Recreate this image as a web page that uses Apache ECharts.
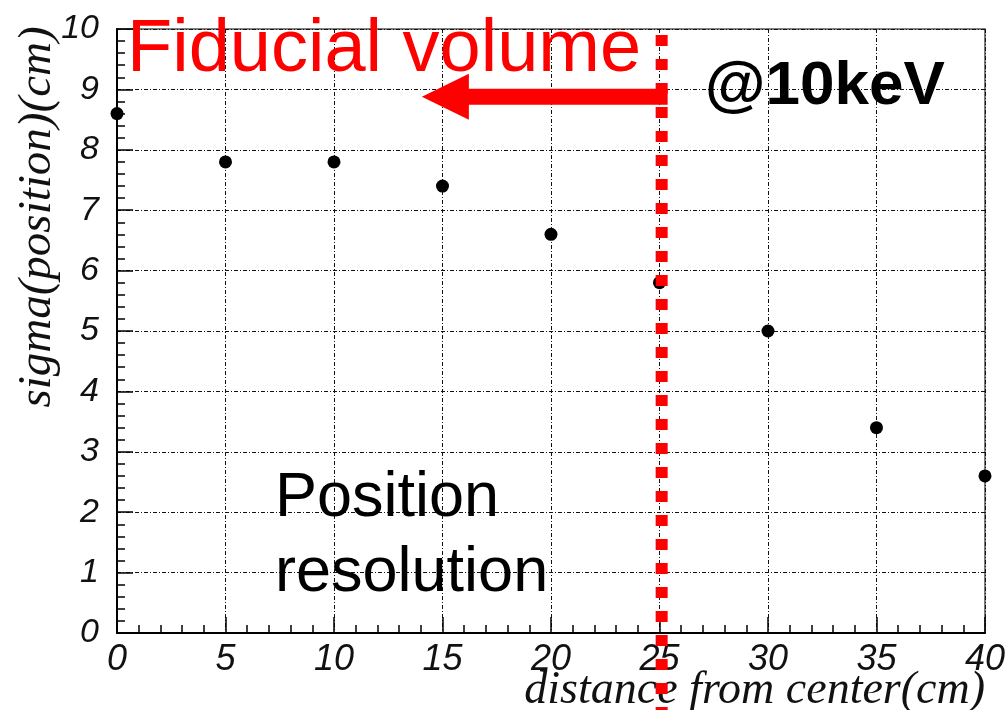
<!DOCTYPE html>
<html>
<head>
<meta charset="utf-8">
<script src="https://cdn.jsdelivr.net/npm/echarts@6/dist/echarts.min.js"></script>
<style>
  html, body { margin: 0; padding: 0; background: #fff; }
  #chart { width: 1008px; height: 710px; }
</style>
</head>
<body>
<div id="chart"></div>
<script>
// Position resolution (sigma) versus distance from the detector center, 10 keV events
const distances = [0, 5, 10, 15, 20, 25, 30, 35, 40];
const sigmaValues = [8.6, 7.8, 7.8, 7.4, 6.6, 5.8, 5.0, 3.4, 2.6];

// Fiducial volume boundary (cm) and the arrow pointing inwards from it
const fiducialRadius = 25.1;
const arrowLevel = 8.88;
const arrowTipDistance = 14.05;

const xTitle = 'distance from center(cm)';
const yTitle = 'sigma(position)(cm)';

const chart = echarts.init(document.getElementById('chart'));

const gridLine = { show: true, lineStyle: { color: '#111', width: 1, type: [4, 2, 1, 2] } };
const tickLabel = { fontFamily: 'Liberation Sans', fontStyle: 'italic', color: '#111' };

chart.setOption({
  animation: false,
  backgroundColor: '#fff',
  grid: {
    left: 117, right: 20, top: 29, bottom: 77,
    show: true, borderColor: '#555', borderWidth: 1.5, backgroundColor: 'transparent'
  },
  xAxis: {
    type: 'value', min: 0, max: 40, interval: 5,
    axisLine: { show: true, lineStyle: { color: '#000', width: 2 } },
    axisTick: { show: true, inside: true, length: 16, lineStyle: { color: '#000', width: 1.5 } },
    minorTick: { show: true, splitNumber: 5, length: 8, lineStyle: { color: '#000', width: 1.5 } },
    splitLine: gridLine,
    axisLabel: Object.assign({ fontSize: 36, margin: 9 }, tickLabel)
  },
  yAxis: {
    type: 'value', min: 0, max: 10, interval: 1,
    axisLine: { show: true, lineStyle: { color: '#000', width: 2 } },
    axisTick: { show: true, inside: true, length: 16, lineStyle: { color: '#000', width: 1.5 } },
    minorTick: { show: true, splitNumber: 5, length: 8, lineStyle: { color: '#000', width: 1.5 } },
    splitLine: gridLine,
    axisLabel: Object.assign({ fontSize: 34, margin: 18 }, tickLabel)
  },
  series: [{
    type: 'scatter',
    data: distances.map((d, i) => [d, sigmaValues[i]]),
    symbol: 'circle',
    symbolSize: 13,
    clip: true,
    itemStyle: { color: '#000', opacity: 1 },
    z: 3
  }]
});

// Annotations anchored to the data scale
const lineX = chart.convertToPixel({ gridIndex: 0 }, [fiducialRadius, 0])[0];
const topY = chart.convertToPixel({ gridIndex: 0 }, [0, 10])[1];
const arrowY = chart.convertToPixel({ gridIndex: 0 }, [0, arrowLevel])[1];
const tipX = chart.convertToPixel({ gridIndex: 0 }, [arrowTipDistance, 0])[0];
const headBackX = tipX + 47;
const shaftHalf = 8;
const headHalf = 23;
const shaftEnd = lineX + 6;

chart.setOption({
  graphic: [
    {
      type: 'line', z: 50,
      shape: { x1: lineX, y1: topY + 6, x2: lineX, y2: 712 },
      style: { stroke: '#ff0000', lineWidth: 12, lineDash: [11, 13], lineCap: 'butt' }
    },
    {
      type: 'polygon', z: 50,
      shape: {
        points: [
          [tipX, arrowY],
          [headBackX, arrowY - headHalf],
          [headBackX, arrowY - shaftHalf],
          [shaftEnd, arrowY - shaftHalf],
          [shaftEnd, arrowY + shaftHalf],
          [headBackX, arrowY + shaftHalf],
          [headBackX, arrowY + headHalf]
        ]
      },
      style: { fill: '#ff0000' }
    },
    {
      type: 'text', z: 60, x: 127, y: 88,
      style: {
        text: 'Fiducial volume', fill: '#ff0000',
        font: '74px "Liberation Sans"', textAlign: 'left', textVerticalAlign: 'bottom'
      }
    },
    {
      type: 'text', z: 60, x: 705, y: 118,
      style: {
        text: '@10keV', fill: '#000',
        font: 'bold 62px "Liberation Sans"', textAlign: 'left', textVerticalAlign: 'bottom'
      }
    },
    {
      type: 'text', z: 60, x: 275, y: 530,
      style: {
        text: 'Position', fill: '#000',
        font: '63px "Liberation Sans"', textAlign: 'left', textVerticalAlign: 'bottom'
      }
    },
    {
      type: 'text', z: 60, x: 275, y: 605,
      style: {
        text: 'resolution', fill: '#000',
        font: '63px "Liberation Sans"', textAlign: 'left', textVerticalAlign: 'bottom'
      }
    },
    {
      type: 'text', z: 40, x: 985, y: 714,
      style: {
        text: xTitle, fill: '#111',
        font: 'italic 46px "Liberation Serif"', textAlign: 'right', textVerticalAlign: 'bottom'
      }
    },
    {
      type: 'text', z: 40, x: 38, y: 217, rotation: Math.PI / 2,
      style: {
        text: yTitle, fill: '#111',
        font: 'italic 47px "Liberation Serif"', textAlign: 'center', textVerticalAlign: 'middle'
      }
    }
  ]
});
</script>
</body>
</html>
